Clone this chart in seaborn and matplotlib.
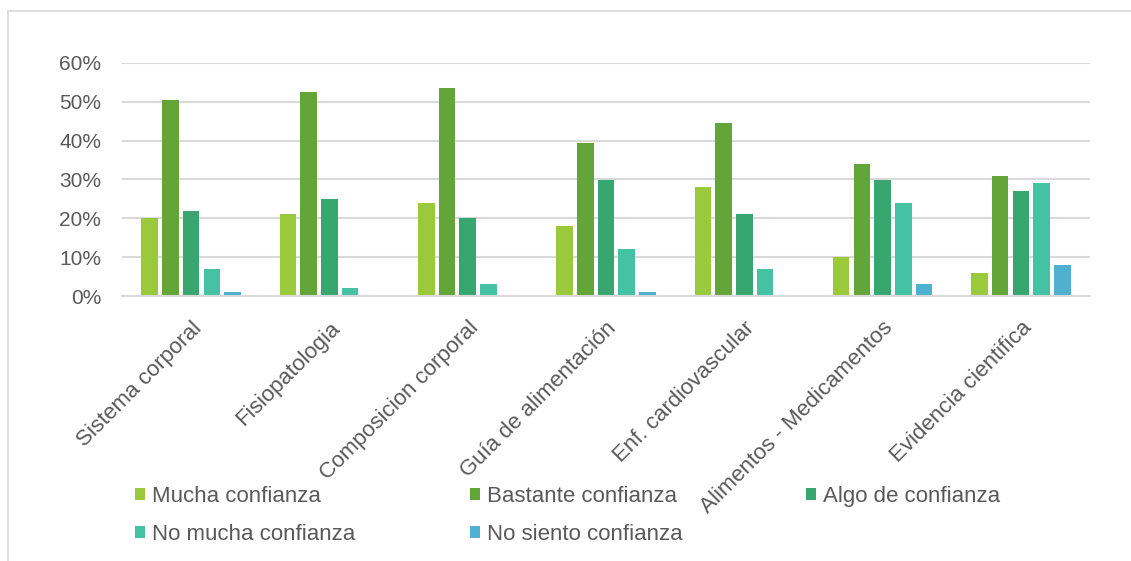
import matplotlib
matplotlib.use("Agg")
import matplotlib.pyplot as plt
import seaborn as sns
import pandas as pd
from matplotlib.patches import Rectangle
from matplotlib.ticker import PercentFormatter, MultipleLocator

categories = ["Sistema corporal", "Fisiopatologia", "Composicion corporal",
              "Guía de alimentación", "Enf. cardiovascular",
              "Alimentos - Medicamentos", "Evidencia cientifica"]
series = ["Mucha confianza", "Bastante confianza", "Algo de confianza",
          "No mucha confianza", "No siento confianza"]
mucha = [20, 21, 24, 18, 28, 10, 6]
bastante = [50.5, 52.5, 53.5, 39.5, 44.5, 34, 31]
algo = [22, 25, 20, 30, 21, 30, 27]
no_mucha = [7, 2, 3, 12, 7, 24, 29]
no_siento = [1, 0, 0, 1, 0, 3, 8]
colors = ["#9ACA3C", "#64A539", "#38A76F", "#45C2A3", "#4DB1CF"]

values = [mucha, bastante, algo, no_mucha, no_siento]
rows = []
for s, vals in zip(series, values):
    for c, v in zip(categories, vals):
        rows.append({"cat": c, "serie": s, "val": v / 100})
df = pd.DataFrame(rows)

sns.set_theme(style="white")
plt.rcParams["font.family"] = ["Liberation Sans", "DejaVu Sans"]
text_color = "#595959"
W, H = 1131, 561

fig = plt.figure(figsize=(W / 100, H / 100), dpi=100)
# light frame around the chart area
fig.patches.append(Rectangle((8 / W, -0.1), 1.2, 1 - 11 / H + 0.1,
                             transform=fig.transFigure, fill=False,
                             edgecolor="#D9D9D9", linewidth=1.2))
ax = fig.add_axes([122 / W, 1 - 296 / H, (1090 - 122) / W, (296 - 63) / H])

sns.barplot(data=df, x="cat", y="val", hue="serie", order=categories,
            hue_order=series, palette=colors, saturation=1, width=0.75,
            gap=0.2, linewidth=0, ax=ax, legend=True)

ax.set_ylim(0, 0.6)
ax.set_xlim(-0.5, len(categories) - 0.5)
ax.yaxis.set_major_locator(MultipleLocator(0.1))
ax.yaxis.set_major_formatter(PercentFormatter(1.0, decimals=0))
ax.grid(axis="y", color="#D9D9D9", linewidth=1.5)
ax.set_axisbelow(True)
for side in ["top", "right", "left"]:
    ax.spines[side].set_visible(False)
ax.spines["bottom"].set_color("#D9D9D9")
ax.spines["bottom"].set_linewidth(1.5)
ax.set_xlabel("")
ax.set_ylabel("")
ax.tick_params(axis="y", length=0, colors=text_color, labelsize=15, pad=15)
ax.tick_params(axis="x", length=0, colors=text_color, pad=15.5)
ax.set_xticks(range(len(categories)))
ax.set_xticklabels(categories, rotation=45, ha="right", va="top",
                   rotation_mode="anchor", fontsize=16, color=text_color)

handles, labels = ax.get_legend_handles_labels()
ax.get_legend().remove()
columns = [[0, 3], [1, 4], [2]]
col_x = [135, 470, 806]
for idx, x in zip(columns, col_x):
    fig.legend([handles[i] for i in idx], [labels[i] for i in idx],
               loc="upper left", bbox_to_anchor=(x / W, 1 - 486 / H),
               ncol=1, frameon=False, fontsize=16, labelcolor=text_color,
               handlelength=0.45, handleheight=0.45, handletextpad=0.3,
               labelspacing=0.75, borderpad=0, borderaxespad=0)

fig.savefig("out.png", dpi=100, facecolor="white")
